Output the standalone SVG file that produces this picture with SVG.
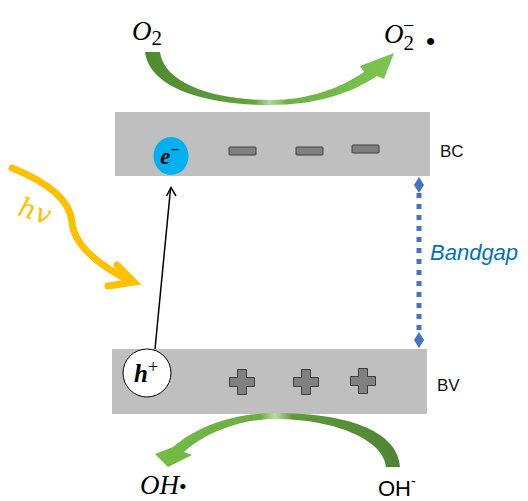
<svg xmlns="http://www.w3.org/2000/svg" width="528" height="501" viewBox="0 0 528 501">
<style>
.band{fill:#BFBFBF}
.math{font-family:"Liberation Serif","DejaVu Serif",serif;font-style:italic;fill:#000}
.lbl{font-family:"Liberation Sans",Arial,sans-serif;font-size:17px;fill:#111}
.dash{fill:#808080;stroke:#3f3f3f;stroke-width:1}
.plus{fill:#808080;stroke:#3f3f3f;stroke-width:1}
</style>
<defs>
<linearGradient id="gTop" gradientUnits="userSpaceOnUse" x1="145" y1="0" x2="394" y2="0">
<stop offset="0" stop-color="#4f8a2f"/>
<stop offset="0.44" stop-color="#64a23e"/>
<stop offset="0.5" stop-color="#b5d99c"/>
<stop offset="0.57" stop-color="#6cb044"/>
<stop offset="1" stop-color="#7dc552"/>
</linearGradient>
<linearGradient id="gBot" gradientUnits="userSpaceOnUse" x1="155" y1="0" x2="400" y2="0">
<stop offset="0" stop-color="#74bd45"/>
<stop offset="0.43" stop-color="#6aac42"/>
<stop offset="0.49" stop-color="#bcdca6"/>
<stop offset="0.56" stop-color="#5f9a3c"/>
<stop offset="1" stop-color="#4f8434"/>
</linearGradient>
<path id="plus" d="M-4.5,-12.5 h9 v8 h8 v9 h-8 v8 h-9 v-8 h-8 v-9 h8 z"/>
</defs>

<g id="bc-band">
<rect class="band" x="115" y="112" width="315" height="64"/>
<rect class="dash" x="229" y="147" width="27" height="8" rx="1"/>
<rect class="dash" x="296" y="147" width="27" height="8" rx="1"/>
<rect class="dash" x="352" y="145" width="27" height="8" rx="1"/>
<text class="lbl" x="440" y="157">BC</text>
</g>

<g id="bv-band">
<rect class="band" x="112" y="349" width="315" height="65"/>
<use href="#plus" class="plus" x="242" y="382"/>
<use href="#plus" class="plus" x="306" y="382"/>
<use href="#plus" class="plus" x="363" y="381"/>
<text class="lbl" x="437" y="391">BV</text>
</g>

<g id="electron">
<ellipse cx="171" cy="156" rx="17.5" ry="19" fill="#00B0F0"/>
<text x="170" y="164" text-anchor="middle" font-family="Liberation Serif,serif" font-style="italic" font-weight="bold" font-size="23">e<tspan font-size="16" dy="-9" font-style="normal">−</tspan></text>
</g>

<g id="hole">
<circle cx="147" cy="373" r="24" fill="#fff" stroke="#000" stroke-width="1"/>
<text x="146" y="382" text-anchor="middle" font-family="Liberation Serif,serif" font-style="italic" font-weight="bold" font-size="25">h<tspan font-size="18" dy="-9" font-style="normal" font-weight="normal">+</tspan></text>
</g>

<g id="connectors">
<line x1="155" y1="349" x2="170.5" y2="189" stroke="#000" stroke-width="1.5"/>
<polyline points="166.5,196 171,187.5 176,196" fill="none" stroke="#000" stroke-width="1.5"/>
<path d="M145,52 L160,52 C164,84 215,100 270,100 C310,100 340,88 364,72 L360,66 L394,53 L384,79 L377,76 C350,94 315,105 270,105 C210,105 150,90 145,52 Z" fill="url(#gTop)"/>
<path d="M400,467 C398,430 345,413 275,413 C230,413 195,428 173,447 L155,454 L168,467 L192,455 L184,452 C205,433 240,419 275,419 C335,419 384,440 386,467 Z" fill="url(#gBot)"/>
<path d="M12,168 C42,180 70,198 72,222 C74,246 100,266 132,282" fill="none" stroke="#FFC000" stroke-width="7" stroke-linecap="round"/>
<polyline points="117,265 134,282 108,286" fill="none" stroke="#FFC000" stroke-width="7" stroke-linecap="round" stroke-linejoin="miter"/>
<line x1="419" y1="193" x2="419" y2="334" stroke="#4472C4" stroke-width="5" stroke-dasharray="5,6"/>
<path d="M419,177 L424,185 L419,193 L414,185 Z" fill="#4472C4"/>
<path d="M419,332 L424,340 L419,348 L414,340 Z" fill="#4472C4"/>
</g>

<g id="labels">
<text class="math" x="132" y="40" font-size="27">O<tspan font-size="21" font-style="normal" dy="5">2</tspan></text>
<text class="math" x="384" y="43" font-size="27">O<tspan font-size="21" font-style="normal" dy="7">2</tspan></text>
<text x="403" y="32" font-family="Liberation Serif,serif" font-size="20" fill="#000">−</text>
<text x="426" y="50" font-family="Liberation Sans,Arial,sans-serif" font-size="26" fill="#000">•</text>
<text x="18" y="222" transform="rotate(18 40 214)" font-family="DejaVu Serif,serif" font-style="italic" font-size="27" fill="#FFC000">hv</text>
<text x="430" y="260" font-family="Liberation Sans,Arial,sans-serif" font-style="italic" font-size="22" fill="#0070C0">Bandgap</text>
<text class="math" x="140" y="494" font-size="27">OH<tspan font-style="normal" font-size="22">•</tspan></text>
<text x="378" y="496" font-family="Liberation Sans,Arial,sans-serif" font-size="22" fill="#000">OH<tspan font-size="14" dy="-10">-</tspan></text>
</g>
</svg>
